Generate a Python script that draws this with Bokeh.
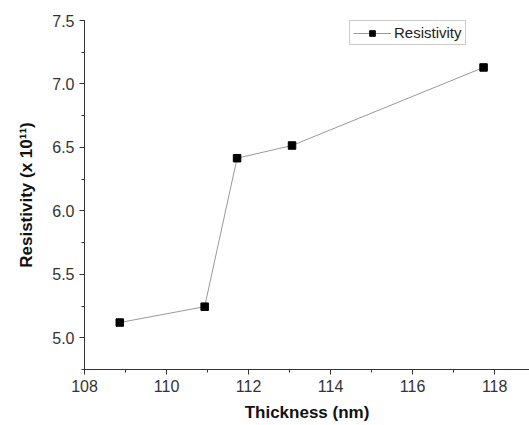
from bokeh.plotting import figure
from bokeh.models import Range1d, SingleIntervalTicker, PrintfTickFormatter, Legend, LegendItem
from bokeh.embed import file_html
from bokeh.resources import INLINE

thickness = [108.86, 110.93, 111.72, 113.06, 117.73]
resistivity = [5.12, 5.245, 6.415, 6.515, 7.13]

p = figure(width=529, height=425, output_backend="svg", toolbar_location=None,
           x_range=Range1d(108, 118.85), y_range=Range1d(4.75, 7.5),
           min_border_left=84, min_border_right=0, min_border_top=20, min_border_bottom=56)
p.xgrid.visible = False
p.ygrid.visible = False
p.outline_line_color = None

ln = p.line(thickness, resistivity, line_color="#999999", line_width=1)
sq = p.scatter(thickness, resistivity, marker="square", size=7.5, fill_color="black", line_color="black")

for ax, interval in ((p.xaxis[0], 2), (p.yaxis[0], 0.5)):
    ax.ticker = SingleIntervalTicker(interval=interval, num_minor_ticks=2)
    ax.major_tick_in = 0
    ax.major_tick_out = 5
    ax.minor_tick_in = 0
    ax.minor_tick_out = 3
    ax.axis_line_color = "#333333"
    ax.major_tick_line_color = "#333333"
    ax.minor_tick_line_color = "#333333"
    ax.major_label_text_font = "Liberation Sans"
    ax.major_label_text_font_size = "16px"
    ax.major_label_text_color = "#333333"
    ax.major_label_standoff = 5
    ax.axis_label_text_font = "Liberation Sans"
    ax.axis_label_text_font_size = "17px"
    ax.axis_label_text_font_style = "bold"
    ax.axis_label_text_color = "#111111"

p.yaxis[0].formatter = PrintfTickFormatter(format="%.1f")
p.xaxis[0].axis_label = "Thickness (nm)"
p.yaxis[0].axis_label = "Resistivity (x 10¹¹)"
p.xaxis[0].axis_label_standoff = 8
p.yaxis[0].axis_label_standoff = 13

legend = Legend(items=[LegendItem(label="Resistivity", renderers=[ln, sq])],
                location=(265, 324))
legend.border_line_color = "#999999"
legend.border_line_width = 1
legend.padding = 3
legend.margin = 0
legend.spacing = 0
legend.glyph_width = 38
legend.glyph_height = 14
legend.label_height = 14
legend.label_standoff = 3
legend.label_text_font = "Liberation Sans"
legend.label_text_font_size = "15px"
legend.label_text_color = "#222222"
legend.background_fill_alpha = 1
p.add_layout(legend, "center")

open("out.html", "w").write(file_html(p, INLINE))
